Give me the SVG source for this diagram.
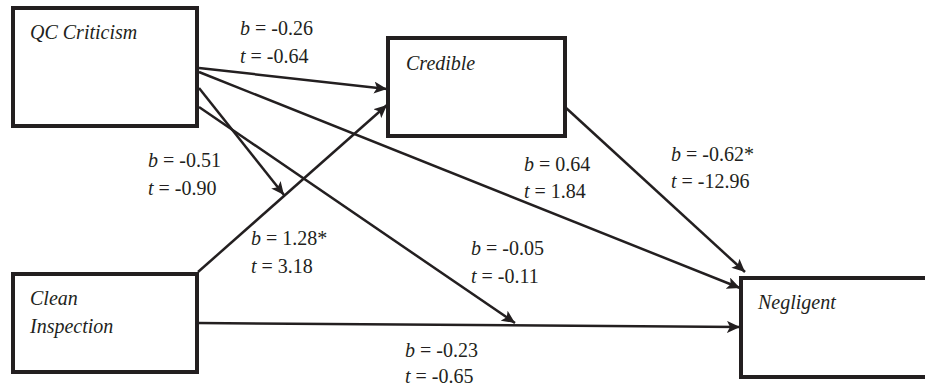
<svg xmlns="http://www.w3.org/2000/svg" width="925" height="385" viewBox="0 0 925 385">
<style>
.box{fill:#fff;stroke:#231f20;stroke-width:4}
text{fill:#231f20}
.i{font-style:italic}
.ln{stroke:#231f20;stroke-width:2.5;fill:none;marker-end:url(#ah)}
</style>
<defs>
<marker id="ah" markerUnits="userSpaceOnUse" markerWidth="14" markerHeight="12" refX="13" refY="6" orient="auto">
<path d="M0,0 L13,6 L0,12 L3,6 Z" fill="#231f20"/>
</marker>
</defs>
<rect width="925" height="385" fill="#fff"/>
<g id="connectors">
<line class="ln" x1="199" y1="68" x2="387" y2="89"/>
<line class="ln" x1="199" y1="72" x2="740" y2="288"/>
<line class="ln" x1="199" y1="88" x2="284" y2="195"/>
<line class="ln" x1="199" y1="107" x2="515" y2="323"/>
<line class="ln" x1="198" y1="272" x2="387" y2="105"/>
<line class="ln" x1="198" y1="323" x2="740" y2="327"/>
<line class="ln" x1="565" y1="107" x2="745" y2="272"/>
</g>
<g font-family="Liberation Serif, Times New Roman, DejaVu Serif, serif" font-size="20">
<g id="qc">
<rect class="box" x="13" y="8" width="184" height="118"/>
<text font-style="italic" x="30" y="39">QC Criticism</text>
</g>
<g id="credible">
<rect class="box" x="388" y="38" width="177" height="98"/>
<text font-style="italic" x="406" y="70">Credible</text>
</g>
<g id="clean">
<rect class="box" x="13" y="274" width="184" height="98"/>
<text font-style="italic" x="30" y="305">Clean</text>
<text font-style="italic" x="30" y="333">Inspection</text>
</g>
<g id="negligent">
<rect class="box" x="741" y="278" width="195" height="99"/>
<text font-style="italic" x="758" y="309">Negligent</text>
</g>
<g id="labels">
<text x="240" y="35"><tspan class="i">b</tspan> = -0.26</text>
<text x="240" y="63"><tspan class="i">t</tspan> = -0.64</text>
<text x="148" y="167"><tspan class="i">b</tspan> = -0.51</text>
<text x="148" y="195"><tspan class="i">t</tspan> = -0.90</text>
<text x="251" y="245"><tspan class="i">b</tspan> = 1.28*</text>
<text x="251" y="273"><tspan class="i">t</tspan> = 3.18</text>
<text x="524" y="171"><tspan class="i">b</tspan> = 0.64</text>
<text x="524" y="198"><tspan class="i">t</tspan> = 1.84</text>
<text x="671" y="161"><tspan class="i">b</tspan> = -0.62*</text>
<text x="671" y="188"><tspan class="i">t</tspan> = -12.96</text>
<text x="471" y="255"><tspan class="i">b</tspan> = -0.05</text>
<text x="471" y="283"><tspan class="i">t</tspan> = -0.11</text>
<text x="405" y="357"><tspan class="i">b</tspan> = -0.23</text>
<text x="405" y="383"><tspan class="i">t</tspan> = -0.65</text>
</g>
</g>
</svg>
